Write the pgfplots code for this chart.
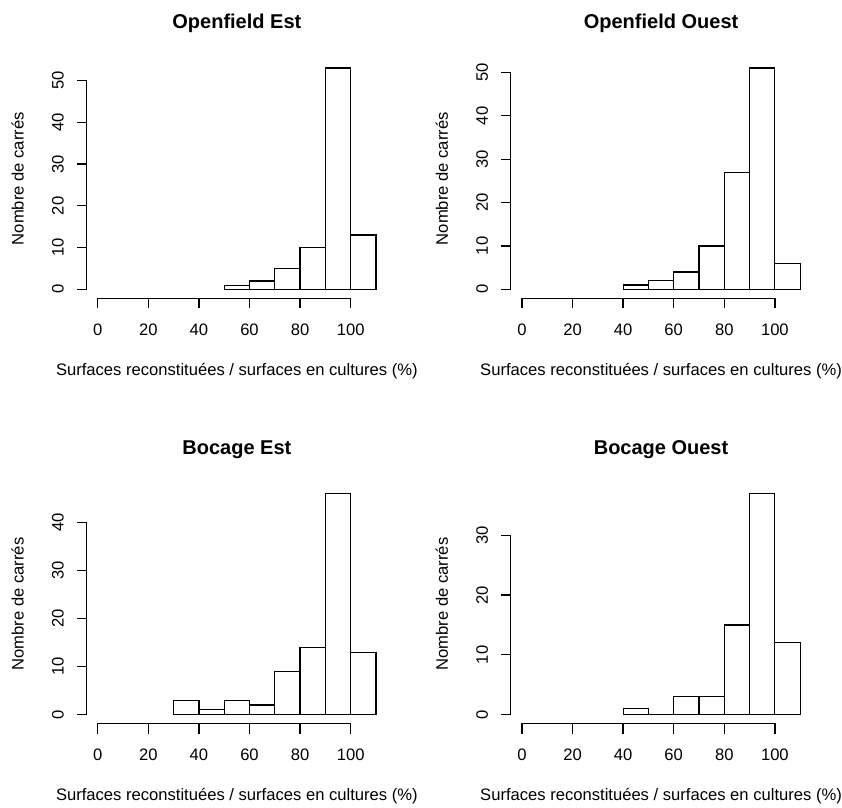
\documentclass[border=0pt]{standalone}
\usepackage{fontspec}
\setmainfont{Liberation Sans}
\usepackage{pgfplots}
\pgfplotsset{compat=1.18}
\newcommand{\basefont}{\fontsize{16.6}{20}\selectfont}
\tikzset{rtick/.style={line width=1.3pt, draw=black, line cap=square, line join=miter}}
\pgfplotsset{
 rhist/.style={
  scale only axis, width=300.5pt, height=239pt, anchor=south west,
  xmin=-4.4, xmax=114.4,
  clip=false,
  axis x line*=bottom, axis y line*=left,
  axis line style={draw=none},
  tick align=outside, major tick length=0pt,
  xtick={0,20,...,100},
  minor tick num=0,
  /pgf/number format/assume math mode=true,
  ticklabel style={font=\basefont},
  xticklabel style={anchor=base, yshift=-37.4pt},
  yticklabel style={xshift=-23pt, rotate=90, anchor=base},
  every axis title/.style={at={(0.5,1)}, anchor=base, yshift=30.5pt, font=\bfseries\fontsize{20}{24}\selectfont},
  every axis x label/.style={at={(0.5,0)}, anchor=base, yshift=-77.4pt, font=\basefont},
  every axis y label/.style={at={(0,0.5)}, xshift=-63pt, rotate=90, anchor=base, font=\basefont},
  xlabel={Surfaces reconstituées / surfaces en cultures (\%)},
  ylabel={Nombre de carrés},
 },
 hbar/.style={ybar interval, draw=black, fill=white, line width=1.2pt},
}
% x axis with ticks as one path: #1 = axis y of line, #2 = lower end of ticks
\newcommand{\xaxisR}[2]{\draw[rtick] (axis cs:0,#2) -- (axis cs:0,#1) -- (axis cs:100,#1) -- (axis cs:100,#2)
  (axis cs:20,#1) -- (axis cs:20,#2) (axis cs:40,#1) -- (axis cs:40,#2)
  (axis cs:60,#1) -- (axis cs:60,#2) (axis cs:80,#1) -- (axis cs:80,#2);}
\begin{document}
\begin{tikzpicture}
\useasboundingbox (0,0) rectangle (842pt,807pt);
% Openfield Est
\begin{axis}[rhist, at={(86.6pt,508.8pt)}, ymin=-2.12, ymax=55.12, ytick={0,10,...,50}, title={Openfield Est}]
\addplot[hbar] coordinates {(50,1) (60,2) (70,5) (80,10) (90,53) (100,13) (110,13)};
\xaxisR{-2.12}{-4.515}
\draw[rtick] (axis cs:-8.353,0) -- (axis cs:-4.4,0) -- (axis cs:-4.4,50) -- (axis cs:-8.353,50)
  (axis cs:-4.4,10) -- (axis cs:-8.353,10) (axis cs:-4.4,20) -- (axis cs:-8.353,20)
  (axis cs:-4.4,30) -- (axis cs:-8.353,30) (axis cs:-4.4,40) -- (axis cs:-8.353,40);
\end{axis}
% Openfield Ouest
\begin{axis}[rhist, at={(510.8pt,508.8pt)}, ymin=-2.04, ymax=53.04, ytick={0,10,...,50}, title={Openfield Ouest}]
\addplot[hbar] coordinates {(40,1) (50,2) (60,4) (70,10) (80,27) (90,51) (100,6) (110,6)};
\xaxisR{-2.04}{-4.345}
\draw[rtick] (axis cs:-8.353,0) -- (axis cs:-4.4,0) -- (axis cs:-4.4,50) -- (axis cs:-8.353,50)
  (axis cs:-4.4,10) -- (axis cs:-8.353,10) (axis cs:-4.4,20) -- (axis cs:-8.353,20)
  (axis cs:-4.4,30) -- (axis cs:-8.353,30) (axis cs:-4.4,40) -- (axis cs:-8.353,40);
\end{axis}
% Bocage Est
\begin{axis}[rhist, at={(86.6pt,83.5pt)}, ymin=-1.84, ymax=47.84, ytick={0,10,...,40}, title={Bocage Est}]
\addplot[hbar] coordinates {(30,3) (40,1) (50,3) (60,2) (70,9) (80,14) (90,46) (100,13) (110,13)};
\xaxisR{-1.84}{-3.919}
\draw[rtick] (axis cs:-8.353,0) -- (axis cs:-4.4,0) -- (axis cs:-4.4,40) -- (axis cs:-8.353,40)
  (axis cs:-4.4,10) -- (axis cs:-8.353,10) (axis cs:-4.4,20) -- (axis cs:-8.353,20)
  (axis cs:-4.4,30) -- (axis cs:-8.353,30);
\end{axis}
% Bocage Ouest
\begin{axis}[rhist, at={(510.8pt,83.5pt)}, ymin=-1.48, ymax=38.48, ytick={0,10,...,30}, title={Bocage Ouest}]
\addplot[hbar] coordinates {(40,1) (50,0) (60,3) (70,3) (80,15) (90,37) (100,12) (110,12)};
\xaxisR{-1.48}{-3.152}
\draw[rtick] (axis cs:-8.353,0) -- (axis cs:-4.4,0) -- (axis cs:-4.4,30) -- (axis cs:-8.353,30)
  (axis cs:-4.4,10) -- (axis cs:-8.353,10) (axis cs:-4.4,20) -- (axis cs:-8.353,20);
\end{axis}
\end{tikzpicture}
\end{document}
